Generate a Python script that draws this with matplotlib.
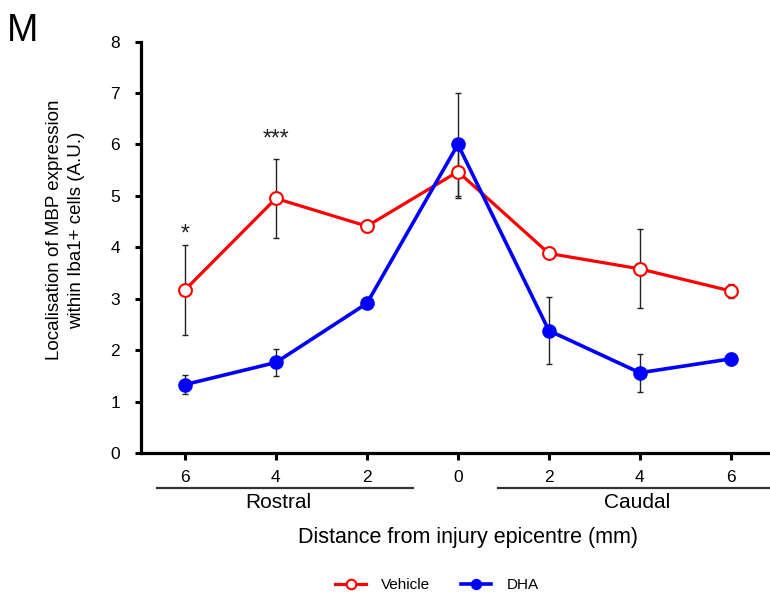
import numpy as np
import matplotlib
matplotlib.use("Agg")
import matplotlib.pyplot as plt
from matplotlib.lines import Line2D

plt.rcParams['font.family'] = ['Liberation Sans', 'DejaVu Sans']

# distance from epicentre (mm), rostral -> caudal
dist_labels = ['6', '4', '2', '0', '2', '4', '6']
vehicle = [3.17, 4.95, 4.41, 5.47, 3.88, 3.58, 3.15]
vehicle_err = [0.87, 0.77, 0.12, 0.52, 0.05, 0.77, 0.14]
dha = [1.33, 1.76, 2.91, 6.00, 2.38, 1.56, 1.83]
dha_err = [0.18, 0.26, 0.05, 1.00, 0.65, 0.37, 0.12]
stars = ['*', '***']
star_pos = [0, 1]
star_y = [4.14, 5.97]

x = np.arange(len(dist_labels))

fig = plt.figure(figsize=(7.7, 5.98), dpi=100)
ax = fig.add_axes([0.183, 0.2425, 0.817, 0.688])

ax.errorbar(x, vehicle, yerr=vehicle_err, fmt='none', ecolor='#222222',
            elinewidth=1.0, capsize=2, capthick=1.0, zorder=2)
ax.errorbar(x, dha, yerr=dha_err, fmt='none', ecolor='#222222',
            elinewidth=1.0, capsize=2, capthick=1.0, zorder=2)
ax.plot(x, vehicle, '-o', color='#ff0000', lw=2.3, ms=9.2,
        mfc='white', mec='#ff0000', mew=1.5, zorder=3, label='Vehicle')
ax.plot(x, dha, '-o', color='#0000ff', lw=2.6, ms=9.5,
        mfc='#0000ff', mec='#0000ff', zorder=4, label='DHA')

for s, i, yy in zip(stars, star_pos, star_y):
    ax.text(x[i], yy, s, ha='center', va='baseline', fontsize=16.5, color='#222222')

ax.set_xlim(-0.484, 6.43)
ax.set_ylim(0, 8)
ax.set_xticks(x)
ax.set_xticklabels(dist_labels)
ax.set_yticks(range(0, 9))
for side in ['top', 'right']:
    ax.spines[side].set_visible(False)
for side in ['left', 'bottom']:
    ax.spines[side].set_linewidth(2.3)
ax.tick_params(axis='y', length=4, width=2.2, pad=11, labelsize=12.5)
ax.tick_params(axis='x', length=5, width=2.2, pad=7, labelsize=12.5)

# rostral / caudal brackets
fig.add_artist(Line2D([157 / 770, 413 / 770], [0.184, 0.184], color='#333333', lw=1.6))
fig.add_artist(Line2D([498 / 770, 1.0], [0.184, 0.184], color='#333333', lw=1.6))
fig.text(278 / 770, 1 - 503 / 598, 'Rostral', ha='center', va='center', fontsize=15)
fig.text(637 / 770, 1 - 503 / 598, 'Caudal', ha='center', va='center', fontsize=15)
fig.text(468 / 770, 1 - 538 / 598, 'Distance from injury epicentre (mm)',
         ha='center', va='center', fontsize=15.5)

fig.text(65.5 / 770, 1 - 230 / 598,
         'Localisation of MBP expression\nwithin Iba1+ cells (A.U.)',
         rotation=90, ha='center', va='center', multialignment='center',
         fontsize=13.5, linespacing=1.35)

fig.text(7 / 770, 1 - 41 / 598, 'M', fontsize=27, va='baseline')

fig.legend(loc='center', bbox_to_anchor=(437 / 770, 1 - 585 / 598), ncol=2,
           frameon=False, fontsize=11, handlelength=2.0, handletextpad=1.0,
           columnspacing=2.0, markerscale=0.75)

fig.savefig('out.png', dpi=100)
